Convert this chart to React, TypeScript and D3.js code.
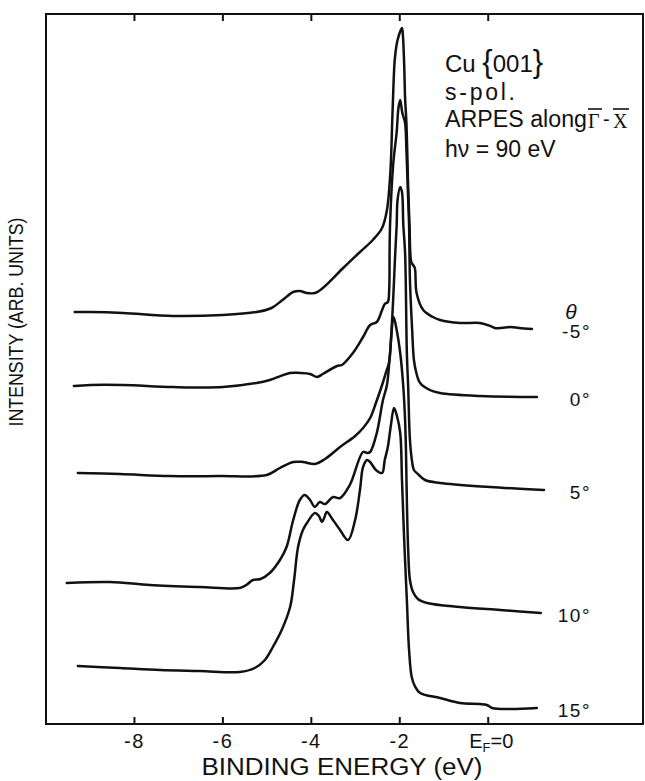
import React from 'react';
import * as d3 from 'd3';

// Photoemission energy distribution curves, Cu{001}, s-polarised light,
// offset vertically for each polar angle θ.

const W = 645;
const H = 781;
const frame = { left: 46, right: 643, top: 14, bottom: 724 };

const energyDomain: [number, number] = [-10, 3.5];
const intensityDomain: [number, number] = [0, 71];

const tickEnergies = [-8, -6, -4, -2, 0];
const tickLabels = ['-8', '-6', '-4', '-2', 'EF=0'];

const angleLabels = ['-5°', '0°', '5°', '10°', '15°'];

// [binding energy (eV), intensity (arb. units, including offset)]
const spectrumMinus5: [number, number][] = [
  [-9.35, 41.2], [-9.0, 41.2], [-8.26, 41.1], [-7.13, 40.8], [-6.0, 40.9], [-5.24, 41.2],
  [-4.9, 41.6], [-4.65, 42.4], [-4.41, 43.2], [-4.26, 43.3], [-4.1, 43.1], [-3.92, 43.1],
  [-3.74, 43.6], [-3.28, 45.6], [-2.9, 47.2], [-2.61, 48.4], [-2.4, 49.6], [-2.29, 51.4],
  [-2.21, 55.4], [-2.17, 60.4], [-2.14, 64.2], [-2.11, 66.6], [-2.05, 68.4], [-1.95, 69.6],
  [-1.93, 68.9], [-1.9, 65.9], [-1.88, 62.6], [-1.85, 60.1], [-1.81, 53.7], [-1.78, 49.9],
  [-1.74, 46.2], [-1.7, 45.9], [-1.66, 45.6], [-1.62, 43.1], [-1.47, 41.4], [-1.25, 40.7],
  [-1.09, 40.4], [-0.64, 40.1], [-0.19, 40.1], [0.05, 39.8], [0.15, 39.6], [0.3, 39.6],
  [0.5, 39.7], [0.7, 39.6], [0.99, 39.5],
];

const spectrum0: [number, number][] = [
  [-9.37, 33.8], [-9.0, 33.9], [-8.26, 33.9], [-7.13, 33.7], [-6.0, 33.7], [-5.24, 34.1],
  [-4.94, 34.4], [-4.48, 35.1], [-4.26, 35.1], [-4.03, 35.0], [-3.87, 34.7], [-3.74, 35.0],
  [-3.42, 35.8], [-3.31, 35.9], [-3.06, 37.1], [-2.83, 38.7], [-2.67, 39.9], [-2.52, 40.2],
  [-2.4, 41.4], [-2.34, 42.0], [-2.27, 42.2], [-2.24, 43.4], [-2.23, 47.4], [-2.22, 49.9],
  [-2.15, 55.9], [-2.07, 59.2], [-2.03, 61.6], [-1.99, 62.4], [-1.95, 61.3], [-1.93, 60.9],
  [-1.88, 60.1], [-1.85, 57.4], [-1.82, 53.7], [-1.79, 49.9], [-1.77, 44.4], [-1.72, 39.4],
  [-1.68, 36.4], [-1.63, 35.2], [-1.54, 34.1], [-1.32, 33.4], [-1.09, 33.1], [-0.19, 32.8],
  [1.1, 32.7],
];

const spectrum5: [number, number][] = [
  [-9.28, 25.1], [-8.33, 25.0], [-7.2, 24.8], [-6.07, 24.8], [-5.01, 24.9], [-4.71, 25.6],
  [-4.41, 26.2], [-4.19, 26.2], [-3.92, 26.0], [-3.69, 26.5], [-3.35, 27.7], [-3.01, 28.8],
  [-2.83, 29.6], [-2.67, 30.6], [-2.54, 32.1], [-2.4, 33.9], [-2.31, 35.2], [-2.24, 36.2],
  [-2.2, 38.4], [-2.15, 42.4], [-2.11, 46.4], [-2.07, 49.9], [-2.05, 52.4], [-1.99, 53.7],
  [-1.95, 53.2], [-1.92, 49.9], [-1.88, 47.1], [-1.84, 37.1], [-1.81, 33.7], [-1.77, 28.4],
  [-1.72, 26.2], [-1.68, 25.4], [-1.59, 25.0], [-1.43, 24.4], [-1.09, 24.1], [0.04, 23.7],
  [1.26, 23.4],
];

const spectrum10: [number, number][] = [
  [-9.53, 14.1], [-8.55, 14.2], [-7.65, 13.9], [-6.52, 13.7], [-5.62, 13.6], [-5.47, 13.9],
  [-5.32, 14.4], [-5.15, 14.5], [-4.94, 15.1], [-4.71, 16.4], [-4.56, 17.7], [-4.41, 20.4],
  [-4.26, 22.4], [-4.15, 22.9], [-4.03, 22.4], [-3.92, 21.7], [-3.81, 22.2], [-3.69, 22.0],
  [-3.51, 22.7], [-3.35, 22.6], [-3.13, 23.9], [-2.83, 27.2], [-2.74, 27.1], [-2.67, 27.2],
  [-2.52, 29.1], [-2.38, 32.4], [-2.29, 33.9], [-2.22, 37.1], [-2.14, 40.7], [-2.07, 39.4],
  [-1.99, 37.1], [-1.92, 33.7], [-1.88, 30.4], [-1.86, 27.4], [-1.84, 22.4], [-1.81, 17.4],
  [-1.77, 14.4], [-1.7, 13.2], [-1.59, 12.5], [-1.38, 12.1], [-0.64, 11.7], [0.27, 11.4],
  [1.19, 11.1],
];

const spectrum15: [number, number][] = [
  [-9.28, 5.8], [-8.33, 5.6], [-7.42, 5.4], [-6.52, 5.3], [-5.62, 5.2], [-5.28, 5.6],
  [-5.05, 6.4], [-4.87, 7.7], [-4.67, 9.4], [-4.48, 11.7], [-4.39, 14.4], [-4.3, 17.7],
  [-4.19, 19.4], [-4.1, 20.1], [-3.92, 21.1], [-3.83, 20.8], [-3.76, 20.2], [-3.71, 20.6],
  [-3.65, 21.2], [-3.51, 20.4], [-3.35, 19.4], [-3.17, 18.4], [-3.01, 20.4], [-2.9, 23.4],
  [-2.83, 25.7], [-2.74, 26.4], [-2.67, 26.2], [-2.54, 25.4], [-2.4, 25.1], [-2.34, 26.4],
  [-2.27, 27.7], [-2.2, 29.9], [-2.13, 31.6], [-2.07, 30.9], [-1.99, 29.1], [-1.95, 24.4],
  [-1.9, 18.4], [-1.84, 12.4], [-1.79, 7.4], [-1.73, 4.7], [-1.66, 3.8], [-1.54, 3.1],
  [-1.09, 2.6], [-0.64, 2.1], [-0.19, 2.0], [-0.03, 1.9], [0.09, 1.6], [0.49, 1.5],
  [1.1, 1.6],
];

const spectra = [spectrumMinus5, spectrum0, spectrum5, spectrum10, spectrum15];

const FONT = '"Liberation Sans", Arial, sans-serif';

export default function App() {
  const x = d3.scaleLinear().domain(energyDomain).range([frame.left, frame.right]);
  const y = d3.scaleLinear().domain(intensityDomain).range([frame.bottom, frame.top]);

  const line = d3
    .line<[number, number]>()
    .x((d) => x(d[0]))
    .y((d) => y(d[1]))
    .curve(d3.curveCatmullRom.alpha(0.5));

  return (
    <svg
      width={W}
      height={H}
      viewBox={`0 0 ${W} ${H}`}
      style={{ position: 'absolute', left: 0, top: 0, background: '#fff' }}
      fontFamily={FONT}
    >
      <rect x={0} y={0} width={W} height={H} fill="#fff" />

      {/* frame */}
      <rect
        x={frame.left}
        y={frame.top}
        width={frame.right - frame.left}
        height={frame.bottom - frame.top}
        fill="none"
        stroke="#111"
        strokeWidth={2}
      />

      {/* ticks on bottom and top edges */}
      {tickEnergies.map((e) => (
        <g key={`t${e}`}>
          <line x1={x(e)} x2={x(e)} y1={frame.bottom} y2={frame.bottom - 7} stroke="#111" strokeWidth={2} />
          <line x1={x(e)} x2={x(e)} y1={frame.top} y2={frame.top + 7} stroke="#111" strokeWidth={2} />
        </g>
      ))}

      {/* tick labels */}
      {tickEnergies.map((e, i) =>
        tickLabels[i] === 'EF=0' ? (
          <text key={`l${e}`} x={x(e) + 3} y={748} fontSize={20} textAnchor="middle" fill="#111">
            E<tspan fontSize={13} dy={4}>F</tspan>
            <tspan dy={-4}>=0</tspan>
          </text>
        ) : (
          <text key={`l${e}`} x={x(e)} y={748} fontSize={20} textAnchor="middle" fill="#111" letterSpacing={1.5}>
            {tickLabels[i]}
          </text>
        )
      )}

      {/* axis titles */}
      <text x={342} y={775} fontSize={23} textAnchor="middle" fill="#111" textLength={281} lengthAdjust="spacingAndGlyphs">
        BINDING ENERGY (eV)
      </text>
      <text
        transform="translate(23,322) rotate(-90)"
        fontSize={20}
        textAnchor="middle"
        fill="#111"
        textLength={209}
        lengthAdjust="spacingAndGlyphs"
      >
        INTENSITY (ARB. UNITS)
      </text>

      {/* spectra */}
      {spectra.map((s, i) => (
        <path
          key={`s${i}`}
          d={line(s) || ''}
          fill="none"
          stroke="#111"
          strokeWidth={2.5}
          strokeLinejoin="round"
          strokeLinecap="round"
        />
      ))}

      {/* angle labels at the right end of each curve */}
      <text x={571} y={319} fontSize={21} fontStyle="italic" textAnchor="middle" fill="#111">
        θ
      </text>
      {spectra.map((s, i) => {
        const last = s[s.length - 1];
        return (
          <text
            key={`a${i}`}
            x={591}
            y={y(last[1]) + 9}
            fontSize={19}
            textAnchor="end"
            fill="#111"
            letterSpacing={1.5}
          >
            {angleLabels[i]}
          </text>
        );
      })}

      {/* sample / measurement annotation */}
      <g fill="#111">
        <text x={445} y={72} fontSize={24}>
          Cu <tspan fontSize={31}>{'{'}</tspan>
          <tspan fontSize={24}>001</tspan>
          <tspan fontSize={31}>{'}'}</tspan>
        </text>
        <text x={445} y={100} fontSize={23} textLength={70} lengthAdjust="spacing">
          s-pol.
        </text>
        <text x={445} y={127} fontSize={23} textLength={142} lengthAdjust="spacingAndGlyphs">
          ARPES along
        </text>
        <text x={588} y={128} fontSize={20} fontFamily='"Liberation Serif", serif'>
          Γ
        </text>
        <text x={603} y={126} fontSize={20}>
          -
        </text>
        <text x={613} y={128} fontSize={20} fontFamily='"Liberation Serif", serif'>
          X
        </text>
        <line x1={588} x2={602} y1={109} y2={109} stroke="#111" strokeWidth={1.6} />
        <line x1={613} x2={629} y1={109} y2={109} stroke="#111" strokeWidth={1.6} />
        <text x={445} y={157} fontSize={23}>
          hν = 90 eV
        </text>
      </g>
    </svg>
  );
}
